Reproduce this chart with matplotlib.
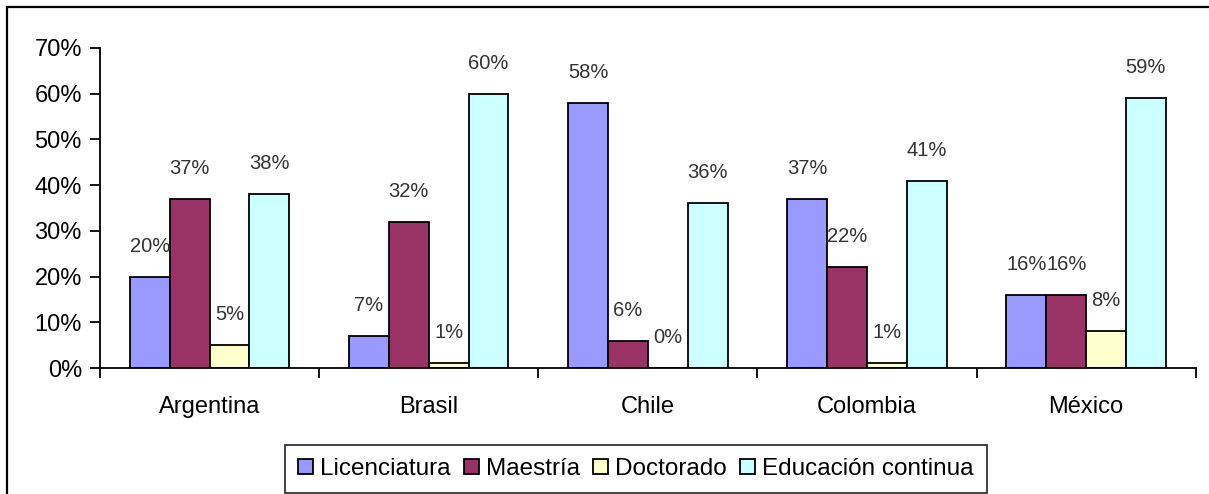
import matplotlib.pyplot as plt
import numpy as np
from matplotlib.patches import Rectangle

plt.rcParams['font.family'] = ['Liberation Sans', 'DejaVu Sans']

paises = ['Argentina', 'Brasil', 'Chile', 'Colombia', 'México']
niveles = ['Licenciatura', 'Maestría', 'Doctorado', 'Educación continua']
licenciatura = [20, 7, 58, 37, 16]
maestria = [37, 32, 6, 22, 16]
doctorado = [5, 1, 0, 1, 8]
educacion_continua = [38, 60, 36, 41, 59]
colores = ['#9999FF', '#993366', '#FFFFCC', '#CCFFFF']

series = [licenciatura, maestria, doctorado, educacion_continua]

fig = plt.figure(figsize=(12.09, 4.94), dpi=100)
ax = fig.add_axes([0.0827, 0.255, 0.9063, 0.648])

# marco exterior del grafico
fig.patches.append(Rectangle((7 / 1209, -0.1), 1.2, 1.1 - 7 / 494,
                             transform=fig.transFigure, fill=False,
                             edgecolor='black', linewidth=1.6, zorder=0))

x = np.arange(len(paises))
ancho = 1 / 5.5  # cuatro barras y un hueco de 150%
for i, (valores, nombre, color) in enumerate(zip(series, niveles, colores)):
    pos = x + (i - 1.5) * ancho
    ax.bar(pos, np.array(valores) / 100, ancho, color=color,
           edgecolor='black', linewidth=1.3, label=nombre)
    for xb, v in zip(pos, valores):
        ax.annotate(f'{v}%', (xb, v / 100), xytext=(0, 18),
                    textcoords='offset points', ha='center', va='baseline',
                    fontsize=14.5, color='#333333')

ax.set_xlim(-0.5, len(paises) - 0.5)
ax.set_ylim(0, 0.70)
ticks = np.arange(0, 0.71, 0.10)
ax.set_yticks(ticks)
ax.set_yticklabels([f'{int(round(t * 100))}%' for t in ticks], fontsize=17)
ax.set_xticks(x)
ax.set_xticklabels(paises, fontsize=17)
ax.set_xticks(np.arange(-0.5, len(paises)), minor=True)
ax.tick_params(axis='x', which='major', length=0, pad=20)
ax.tick_params(axis='x', which='minor', length=7, width=1.3, direction='out')
ax.tick_params(axis='y', length=7, width=1.3, direction='out', pad=6)

for lado in ['top', 'right']:
    ax.spines[lado].set_visible(False)
for lado in ['left', 'bottom']:
    ax.spines[lado].set_linewidth(1.3)

leg = ax.legend(loc='center', bbox_to_anchor=(636 / 1209, 1 - 469 / 494),
                bbox_transform=fig.transFigure, ncol=4, fontsize=17.5,
                frameon=True, fancybox=False, edgecolor='black',
                handlelength=0.6, handleheight=0.6, handletextpad=0.3,
                columnspacing=0.55, borderpad=0.55, borderaxespad=0)
leg.get_frame().set_linewidth(1.3)

fig.savefig('out.png', dpi=100)
